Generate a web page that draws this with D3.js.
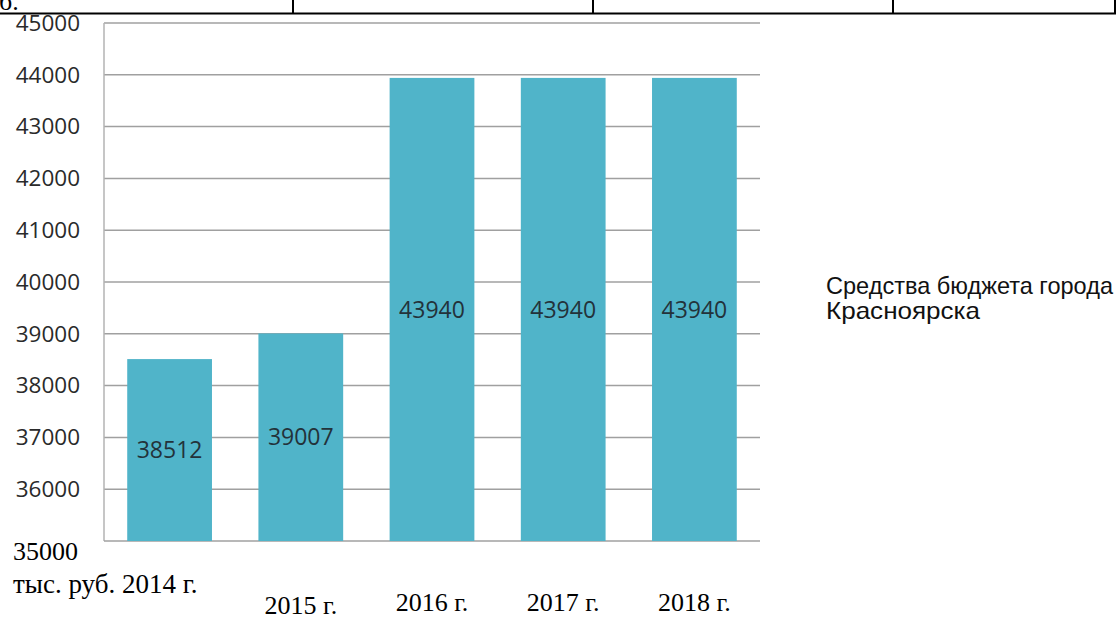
<!DOCTYPE html>
<html>
<head>
<meta charset="utf-8">
<script src="https://cdn.jsdelivr.net/npm/d3@7"></script>
<style>
  body { margin: 0; background: #fff; }
  svg { display: block; }
</style>
</head>
<body>
<svg id="chart"></svg>
<script>
// data
var years = ["2014 г.", "2015 г.", "2016 г.", "2017 г.", "2018 г."];
var values = [38512, 39007, 43940, 43940, 43940];
var yTicks = [35000, 36000, 37000, 38000, 39000, 40000, 41000, 42000, 43000, 44000, 45000];
var legendLines = ["Средства бюджета города", "Красноярска"];
var unitLabel = "тыс. руб.";

var width = 1120, height = 620;
var plot = {left: 104, right: 760, top: 23, bottom: 541};
var serif = "Liberation Serif, Times New Roman, serif";

var svg = d3.select("#chart")
  .attr("width", width)
  .attr("height", height);

// table border of the page above the chart
var tableCols = [293, 593, 893, 1115];
svg.append("line")
  .attr("x1", 0).attr("x2", 1116)
  .attr("y1", 13.5).attr("y2", 13.5)
  .attr("stroke", "#000").attr("stroke-width", 2);
svg.selectAll(".col")
  .data(tableCols)
  .enter()
  .append("line")
  .attr("x1", function(d) { return d; })
  .attr("x2", function(d) { return d; })
  .attr("y1", 0).attr("y2", 14)
  .attr("stroke", "#000").attr("stroke-width", 2);
// tail of the page text above, cut by the picture edge
svg.append("text")
  .attr("x", -1).attr("y", 10)
  .style("font-family", serif)
  .style("font-size", "26px")
  .text("б.");

// scales
var x = d3.scaleBand()
  .domain(years)
  .range([plot.left, plot.right])
  .paddingInner(0.354)
  .paddingOuter(0.177);

var y = d3.scaleLinear()
  .domain([35000, 45000])
  .range([plot.bottom, plot.top]);

// gridlines
svg.append("g")
  .selectAll("line")
  .data(yTicks.slice(1))
  .enter()
  .append("line")
  .attr("x1", plot.left).attr("x2", plot.right)
  .attr("y1", function(d) { return y(d); })
  .attr("y2", function(d) { return y(d); })
  .attr("stroke", "#a0a0a0")
  .attr("stroke-width", 1.5);

// axis frame (left + bottom)
svg.append("line")
  .attr("x1", plot.left).attr("x2", plot.left)
  .attr("y1", plot.top).attr("y2", plot.bottom)
  .attr("stroke", "#b3b3b3").attr("stroke-width", 1.5);
svg.append("line")
  .attr("x1", plot.left).attr("x2", plot.right)
  .attr("y1", plot.bottom).attr("y2", plot.bottom)
  .attr("stroke", "#a0a0a0").attr("stroke-width", 1.5);

// y tick labels
var yAxis = svg.append("g")
  .attr("transform", "translate(80,0)")
  .call(d3.axisLeft(y).tickValues(yTicks.slice(1)).tickSize(0).tickPadding(0).tickFormat(d3.format("d")));
yAxis.select(".domain").remove();
yAxis.selectAll("text")
  .style("font-family", "Open Sans, sans-serif")
  .style("font-size", "22.5px")
  .style("font-weight", 500)
  .attr("fill", "#2a2a2a");

// bottom value comes from the document text, in serif
svg.append("text")
  .attr("x", 13).attr("y", 560)
  .style("font-family", serif)
  .style("font-size", "26px")
  .text(yTicks[0]);

// bars
svg.selectAll(".bar")
  .data(values)
  .enter()
  .append("rect")
  .attr("class", "bar")
  .attr("x", function(d, i) { return x(years[i]); })
  .attr("width", x.bandwidth())
  .attr("y", function(d) { return y(d); })
  .attr("height", function(d) { return y(35000) - y(d); })
  .attr("fill", "#50b4c9");

// value labels centred inside bars
svg.selectAll(".val")
  .data(values)
  .enter()
  .append("text")
  .attr("x", function(d, i) { return x(years[i]) + x.bandwidth() / 2; })
  .attr("y", function(d) { return (y(d) + y(35000)) / 2; })
  .attr("dy", "0.36em")
  .attr("text-anchor", "middle")
  .style("font-family", "Open Sans, sans-serif")
  .style("font-size", "23px")
  .style("font-weight", 500)
  .attr("fill", "#23323a")
  .text(function(d) { return d; });

// category labels (serif, from the document)
svg.append("text")
  .attr("x", 13).attr("y", 593)
  .style("font-family", serif)
  .style("font-size", "27px")
  .text(unitLabel + " " + years[0]);

svg.selectAll(".cat")
  .data(years.slice(1))
  .enter()
  .append("text")
  .attr("x", function(d) { return x(d) + x.bandwidth() / 2; })
  .attr("y", function(d, i) { return i === 0 ? 614 : 611; })
  .attr("text-anchor", "middle")
  .style("font-family", serif)
  .style("font-size", "26px")
  .text(function(d) { return d; });

// legend text
var legendWidths = [287, 154];
svg.append("g")
  .selectAll("text")
  .data(legendLines)
  .enter()
  .append("text")
  .attr("x", 826)
  .attr("y", function(d, i) { return 294 + i * 25; })
  .attr("textLength", function(d, i) { return legendWidths[i]; })
  .attr("lengthAdjust", "spacingAndGlyphs")
  .style("font-family", "Liberation Sans, Arial, sans-serif")
  .style("font-size", "24px")
  .attr("fill", "#111")
  .text(function(d) { return d; });
</script>
</body>
</html>
